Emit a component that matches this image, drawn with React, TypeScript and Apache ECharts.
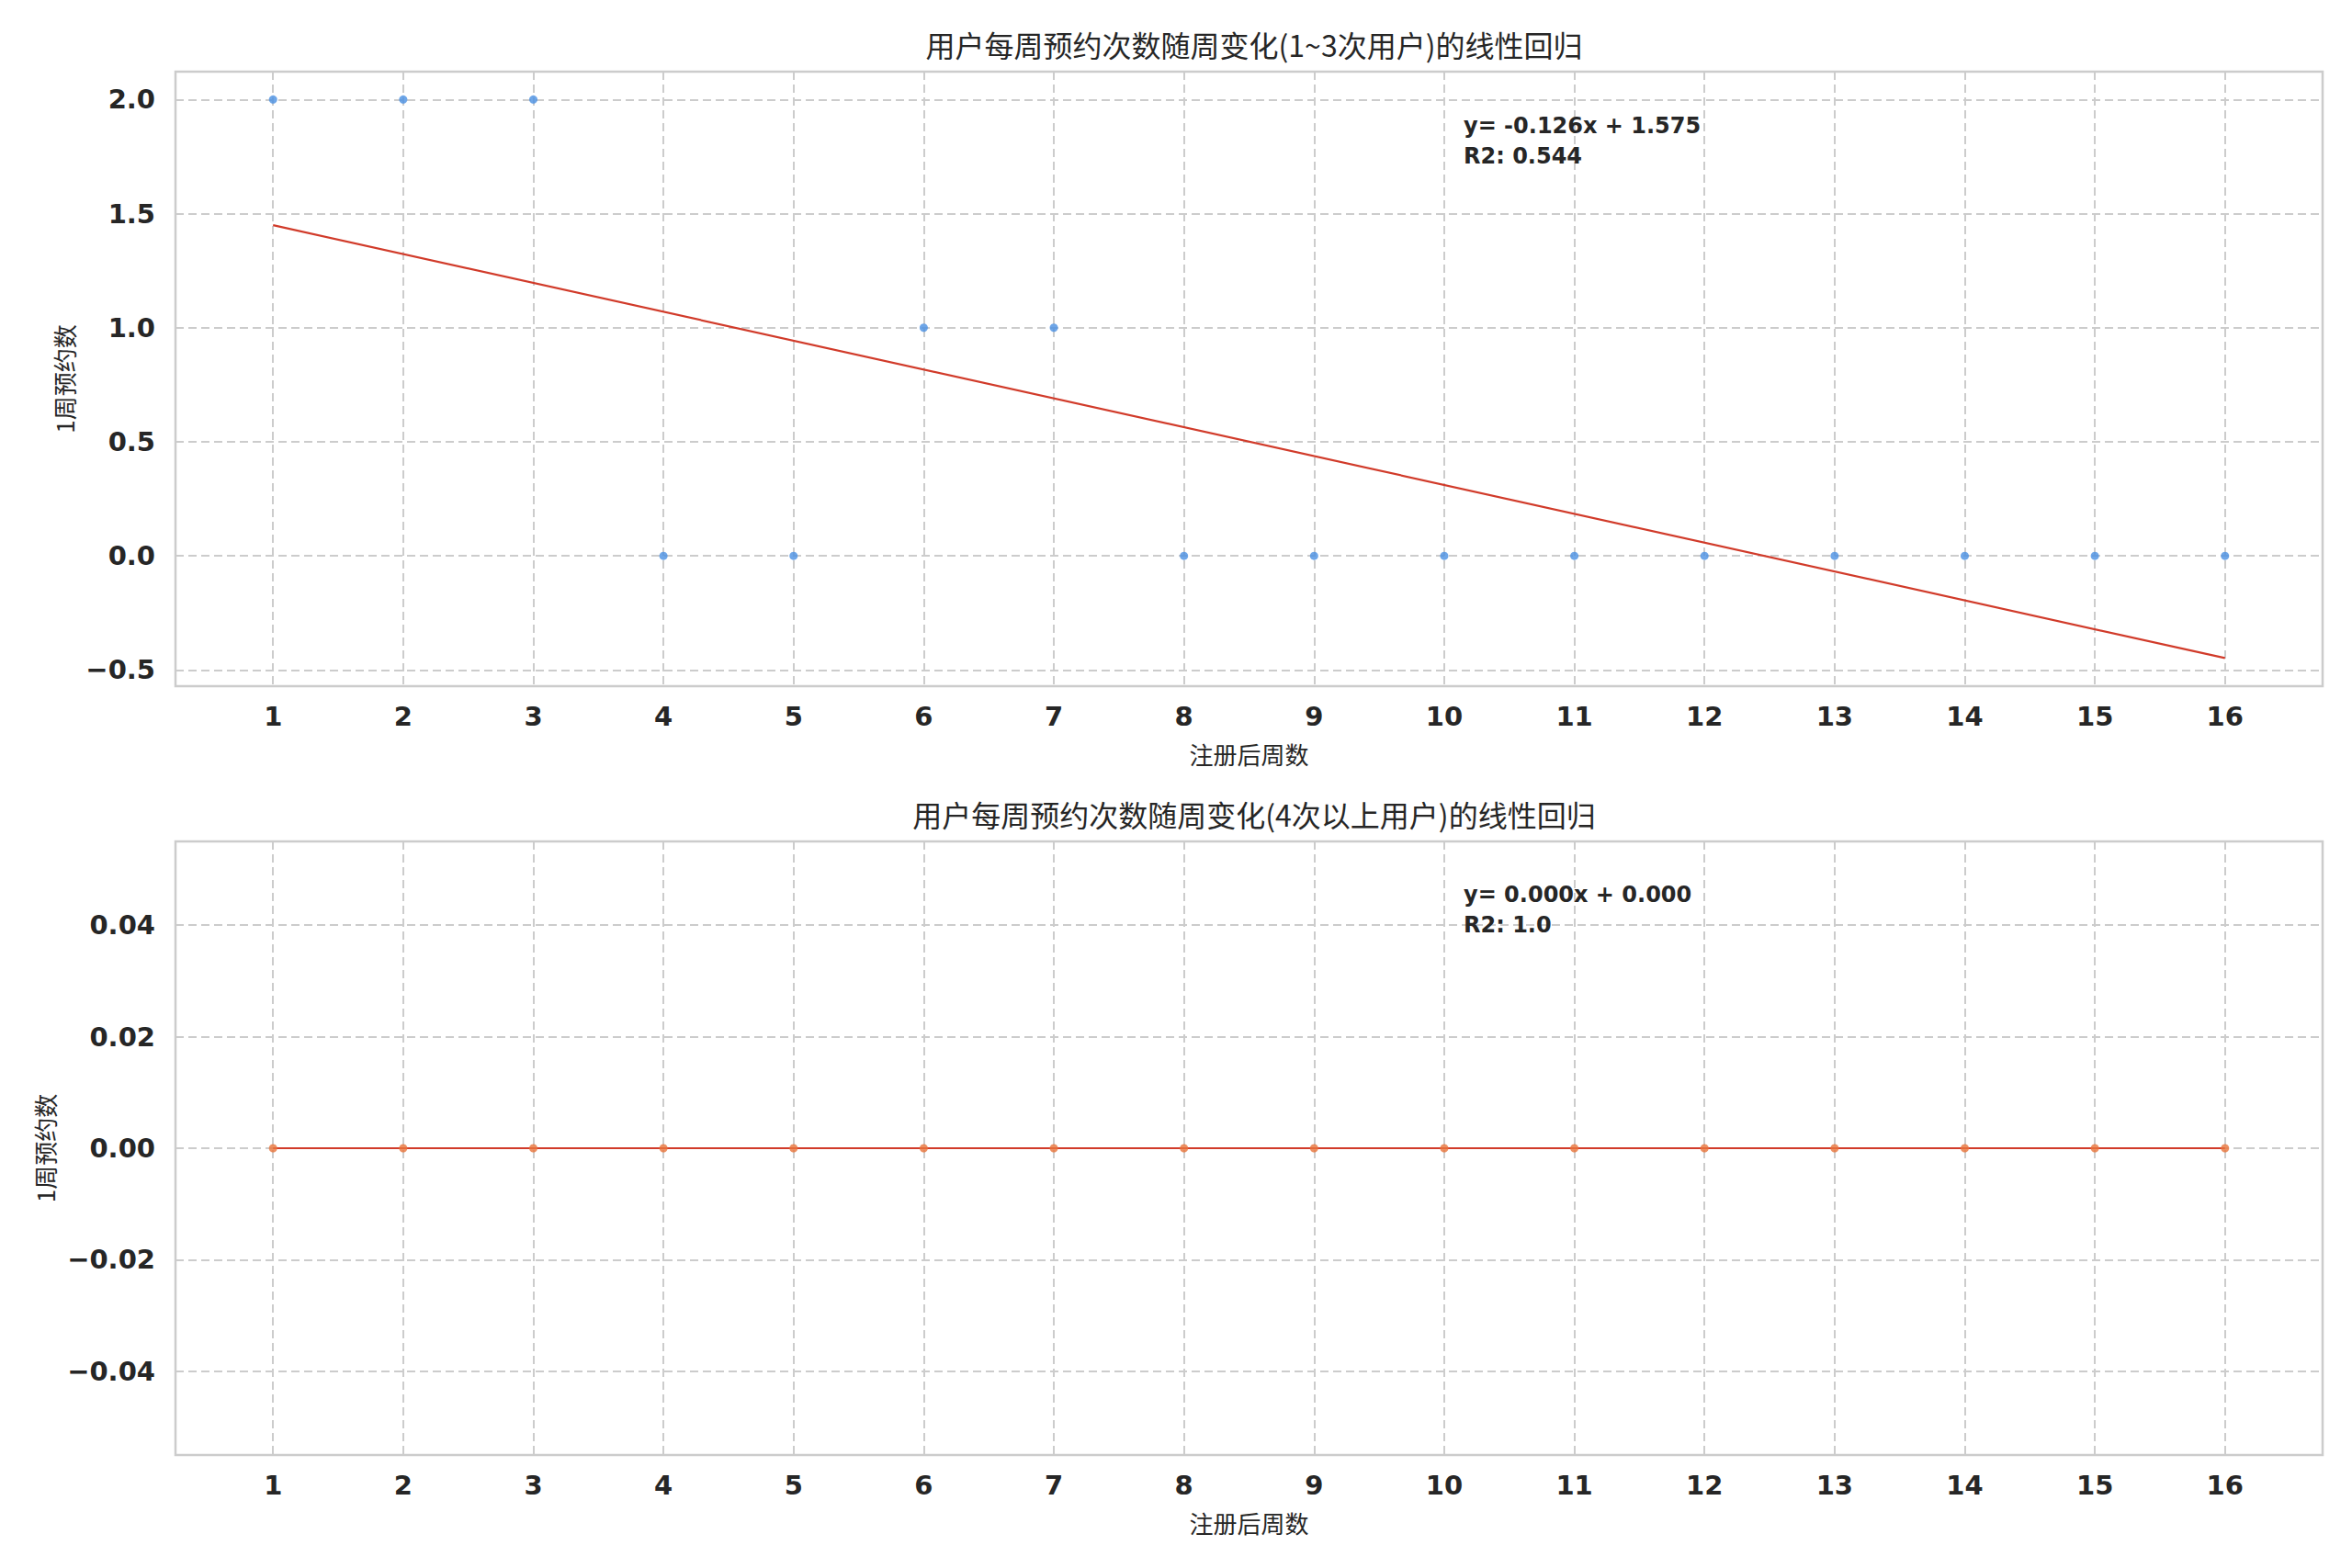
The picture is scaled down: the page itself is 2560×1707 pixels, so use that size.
import React, { useEffect, useRef } from "react";
import * as echarts from "echarts";

const weeks = [1, 2, 3, 4, 5, 6, 7, 8, 9, 10, 11, 12, 13, 14, 15, 16];
const lowFreqCounts = [2, 2, 2, 0, 0, 1, 1, 0, 0, 0, 0, 0, 0, 0, 0, 0];
const highFreqCounts = [0, 0, 0, 0, 0, 0, 0, 0, 0, 0, 0, 0, 0, 0, 0, 0];
const lowTrend = [
  [1, 1.449],
  [16, -0.448],
];
const highTrend = [
  [1, 0],
  [16, 0],
];
const topYTicks = [-0.5, 0, 0.5, 1.0, 1.5, 2.0];
const bottomYTicks = [-0.04, -0.02, 0, 0.02, 0.04];
const titles = [
  "用户每周预约次数随周变化(1~3次用户)的线性回归",
  "用户每周预约次数随周变化(4次以上用户)的线性回归",
];
const xAxisTitle = "注册后周数";
const yAxisTitle = "1周预约数";
const lowEquation = ["y= -0.126x + 1.575", "R2: 0.544"];
const highEquation = ["y= 0.000x + 0.000", "R2: 1.0"];

const TEXT = "#262626";
const GRIDC = "#cccccc";
const CJK = "'Noto Sans CJK SC', 'DejaVu Sans', sans-serif";
const NUM = "'DejaVu Sans', sans-serif";

const fmtNum = (digits: number) => (v: number) => {
  const s = Math.abs(v).toFixed(digits);
  if (v < -1e-9) return "\u2212" + s;
  return s;
};

function makeXAxis(gridIndex: number) {
  return {
    type: "value",
    gridIndex,
    min: 0.25,
    max: 16.75,
    name: xAxisTitle,
    nameLocation: "middle",
    nameGap: 60,
    nameTextStyle: { fontFamily: CJK, fontSize: 26, color: TEXT },
    axisLine: { show: false },
    axisTick: { show: false, customValues: weeks },
    axisLabel: {
      customValues: weeks,
      margin: 18,
      fontFamily: NUM,
      fontWeight: "bold",
      fontSize: 29,
      color: TEXT,
      formatter: (v: number) => String(Math.round(v)),
    },
    splitLine: {
      show: true,
      lineStyle: { color: GRIDC, width: 2, type: [9, 5] },
    },
  };
}

function makeYAxis(gridIndex: number, min: number, max: number, ticks: number[], digits: number, gap: number) {
  return {
    type: "value",
    gridIndex,
    min,
    max,
    name: yAxisTitle,
    nameLocation: "middle",
    nameRotate: 90,
    nameGap: gap,
    nameTextStyle: { fontFamily: CJK, fontSize: 26, color: TEXT },
    axisLine: { show: false },
    axisTick: { show: false, customValues: ticks },
    axisLabel: {
      customValues: ticks,
      margin: 22,
      fontFamily: NUM,
      fontWeight: "bold",
      fontSize: 29,
      color: TEXT,
      formatter: fmtNum(digits),
    },
    splitLine: {
      show: true,
      lineStyle: { color: GRIDC, width: 2, type: [9, 5] },
    },
  };
}

function eqText(lines: string[], x: number, y: number) {
  return lines.map((t, i) => ({
    type: "text",
    x,
    y: y + i * 33,
    z: 10,
    style: {
      text: t,
      fill: TEXT,
      font: `bold 24px ${NUM}`,
      textAlign: "left",
      textVerticalAlign: "middle",
    },
  }));
}

export default function App() {
  const ref = useRef<HTMLDivElement>(null);
  useEffect(() => {
    if (!ref.current) return;
    const chart = echarts.init(ref.current, null, { renderer: "svg" });
    const option: any = {
      animation: false,
      backgroundColor: "#ffffff",
      title: [
        {
          text: titles[0],
          left: 1360,
          top: 27,
          textAlign: "center",
          textStyle: { fontFamily: CJK, fontSize: 32, fontWeight: "normal", color: TEXT },
        },
        {
          text: titles[1],
          left: 1360,
          top: 865,
          textAlign: "center",
          textStyle: { fontFamily: CJK, fontSize: 32, fontWeight: "normal", color: TEXT },
        },
      ],
      grid: [
        { left: 191, top: 78, width: 2337, height: 669, show: true, borderColor: GRIDC, borderWidth: 2.5, backgroundColor: "#fff" },
        { left: 191, top: 916, width: 2337, height: 668, show: true, borderColor: GRIDC, borderWidth: 2.5, backgroundColor: "#fff" },
      ],
      xAxis: [makeXAxis(0), makeXAxis(1)],
      yAxis: [
        makeYAxis(0, -0.571, 2.122, topYTicks, 1, 108),
        makeYAxis(1, -0.055, 0.055, bottomYTicks, 2, 130),
      ],
      series: [
        {
          type: "line",
          xAxisIndex: 0,
          yAxisIndex: 0,
          data: lowTrend,
          showSymbol: false,
          lineStyle: { color: "#d13b2a", width: 2.2 },
          z: 3,
        },
        {
          type: "scatter",
          xAxisIndex: 0,
          yAxisIndex: 0,
          data: weeks.map((w, i) => [w, lowFreqCounts[i]]),
          symbolSize: 9,
          itemStyle: { color: "#4a90e2" },
          z: 4,
        },
        {
          type: "line",
          xAxisIndex: 1,
          yAxisIndex: 1,
          data: highTrend,
          showSymbol: false,
          lineStyle: { color: "#d13b2a", width: 2.2 },
          z: 3,
        },
        {
          type: "scatter",
          xAxisIndex: 1,
          yAxisIndex: 1,
          data: weeks.map((w, i) => [w, highFreqCounts[i]]),
          symbolSize: 9,
          itemStyle: { color: "#e8743b" },
          z: 4,
        },
      ],
      graphic: [...eqText(lowEquation, 1593, 137), ...eqText(highEquation, 1593, 974)],
    };
    chart.setOption(option);
    return () => chart.dispose();
  }, []);
  return (
    <div
      ref={ref}
      style={{ position: "fixed", left: 0, top: 0, width: 2560, height: 1707, background: "#fff" }}
    />
  );
}
